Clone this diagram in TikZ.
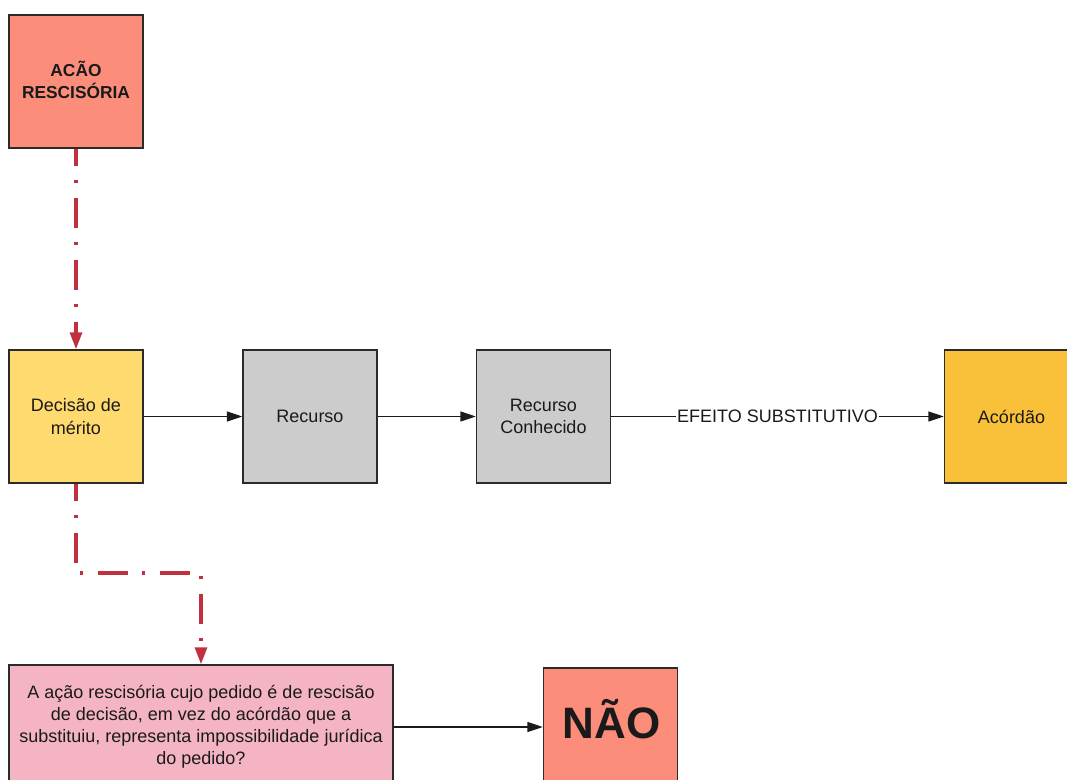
\documentclass[tikz,border=0pt]{standalone}
\usepackage{fontspec}
\setmainfont{Liberation Sans}
\usetikzlibrary{arrows.meta}

\definecolor{salmon}{RGB}{252,141,122}
\definecolor{sand}{RGB}{255,218,111}
\definecolor{amber}{RGB}{249,193,58}
\definecolor{greybox}{RGB}{204,204,204}
\definecolor{rose}{RGB}{244,180,196}
\definecolor{wine}{RGB}{193,48,64}
\definecolor{ink}{RGB}{26,26,26}
\definecolor{edge}{RGB}{43,43,43}

\tikzset{
  box/.style={draw=edge, line width=1.1pt, minimum width=100.5pt, minimum height=99.75pt,
    align=center, text=ink, inner sep=2pt, font=\fontsize{13.5}{17}\selectfont},
  flow/.style={draw=ink, line width=1pt, -{Triangle[length=11.5pt,width=7.5pt]}},
  redlink/.style={draw=wine, line width=2.4pt,
    dash pattern=on 22.5pt off 10.5pt on 2.4pt off 11.1pt, dash phase=9.75pt,
    -{Triangle[length=12.75pt,width=9pt]}},
}

\begin{document}
\begin{tikzpicture}[x=0.75pt,y=-0.75pt]
  \useasboundingbox (0,0) rectangle (1067,780);
  \clip (0,0) rectangle (1067,780);

  % top row and the starting box
  \node[box, fill=salmon, font=\bfseries\fontsize{13}{16.5}\selectfont] (acao) at (76,81.5)
    {ACÃO\\RESCISÓRIA\rule[-3pt]{0pt}{0pt}};
  \node[box, fill=sand] (decisao) at (76,416.5) {Decisão de\\mérito};
  \node[box, fill=greybox] (recurso) at (310,416.5) {Recurso};
  \node[box, fill=greybox] (conhecido) at (543.5,416.5) {Recurso\\Conhecido};
  \node[box, fill=amber] (acordao) at (1011.5,416.5) {Acórdão};

  % bottom row
  \node[box, fill=rose, minimum width=288pt, minimum height=93pt,
        font=\fontsize{13.5}{16.5}\selectfont] (q) at (201,727)
    {A ação rescisória cujo pedido é de rescisão\\de decisão, em vez do acórdão que a\\substituiu, representa impossibilidade jurídica\\do pedido?};
  \node[box, fill=salmon, minimum height=90pt] (nao) at (610.5,728) {};
  \node[anchor=base, text=ink, inner sep=0pt, font=\bfseries\fontsize{33}{36}\selectfont]
    (naotext) at (611.5,738) {NÃO};

  % connectors
  \draw[flow] (decisao) -- (recurso);
  \draw[flow] (recurso) -- (conhecido);
  \draw[flow] (conhecido) -- node[fill=white, inner xsep=0.5pt, inner ysep=1pt, text=ink,
      font=\fontsize{13.5}{16}\selectfont] (efeito) {EFEITO SUBSTITUTIVO} (acordao);
  \draw[flow] (q.east) -- (q.east -| nao.west);

  \draw[redlink] (acao.south) -- (decisao.north);
  \coordinate (bend) at (201,573);
  \draw[redlink] (decisao.south) |- (bend) -- (q.north);
\end{tikzpicture}
\end{document}
